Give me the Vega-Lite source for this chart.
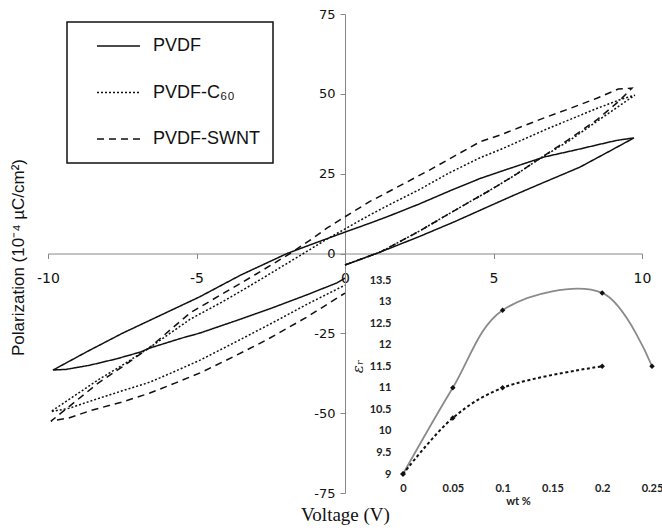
{
  "$schema": "https://vega.github.io/schema/vega-lite/v6.json",
  "width": 594,
  "height": 479,
  "autosize": {"type": "none"},
  "padding": {"left": 48, "top": 14, "right": 20, "bottom": 37},
  "background": "white",
  "config": {
    "view": {"stroke": null},
    "axis": {"grid": false},
    "legend": {"strokeWidth": 1.5},
    "locale": {"number": {"decimal": ".", "thousands": ",", "grouping": [3], "currency": ["$", ""], "minus": "-"}}
  },
  "datasets": {
    "loops": [
      {"s": "PVDF", "i": 1, "v": 0, "p": -3.6},
      {"s": "PVDF", "i": 2, "v": 1.2, "p": 0.5},
      {"s": "PVDF", "i": 3, "v": 2.5, "p": 5.3},
      {"s": "PVDF", "i": 4, "v": 3.7, "p": 10},
      {"s": "PVDF", "i": 5, "v": 4.9, "p": 15},
      {"s": "PVDF", "i": 6, "v": 5.7, "p": 18.3},
      {"s": "PVDF", "i": 7, "v": 6.5, "p": 21.5},
      {"s": "PVDF", "i": 8, "v": 7.9, "p": 27},
      {"s": "PVDF", "i": 9, "v": 8.9, "p": 32},
      {"s": "PVDF", "i": 10, "v": 9.73, "p": 36.2},
      {"s": "PVDF", "i": 11, "v": 9.2, "p": 35.5},
      {"s": "PVDF", "i": 12, "v": 8.9, "p": 34.9},
      {"s": "PVDF", "i": 13, "v": 7.8, "p": 32.5},
      {"s": "PVDF", "i": 14, "v": 6.7, "p": 30.2},
      {"s": "PVDF", "i": 15, "v": 5.5, "p": 26.5},
      {"s": "PVDF", "i": 16, "v": 4.55, "p": 23.5},
      {"s": "PVDF", "i": 17, "v": 3.5, "p": 19.5},
      {"s": "PVDF", "i": 18, "v": 2.5, "p": 15.5},
      {"s": "PVDF", "i": 19, "v": 1.5, "p": 11.8},
      {"s": "PVDF", "i": 20, "v": 0.84, "p": 9.5},
      {"s": "PVDF", "i": 21, "v": 0, "p": 6.7},
      {"s": "PVDF", "i": 22, "v": -1, "p": 3.3},
      {"s": "PVDF", "i": 23, "v": -1.95, "p": 0},
      {"s": "PVDF", "i": 24, "v": -3.5, "p": -6.7},
      {"s": "PVDF", "i": 25, "v": -4.9, "p": -13.6},
      {"s": "PVDF", "i": 26, "v": -6.2, "p": -19.3},
      {"s": "PVDF", "i": 27, "v": -7.5, "p": -25},
      {"s": "PVDF", "i": 28, "v": -8.7, "p": -30.8},
      {"s": "PVDF", "i": 29, "v": -9.83, "p": -36.5},
      {"s": "PVDF", "i": 30, "v": -9.4, "p": -36.3},
      {"s": "PVDF", "i": 31, "v": -8.6, "p": -35},
      {"s": "PVDF", "i": 32, "v": -7.7, "p": -33},
      {"s": "PVDF", "i": 33, "v": -6.9, "p": -30.9},
      {"s": "PVDF", "i": 34, "v": -6.57, "p": -29.6},
      {"s": "PVDF", "i": 35, "v": -5.5, "p": -26.5},
      {"s": "PVDF", "i": 36, "v": -4.88, "p": -24.9},
      {"s": "PVDF", "i": 37, "v": -3.5, "p": -20.5},
      {"s": "PVDF", "i": 38, "v": -2.5, "p": -17.2},
      {"s": "PVDF", "i": 39, "v": -1.3, "p": -13},
      {"s": "PVDF", "i": 40, "v": -0.27, "p": -9.2},
      {"s": "PVDF", "i": 41, "v": 0, "p": -7.7},

      {"s": "PVDF-C₆₀", "i": 1, "v": 0, "p": -3.6},
      {"s": "PVDF-C₆₀", "i": 2, "v": 1.2, "p": 0.5},
      {"s": "PVDF-C₆₀", "i": 3, "v": 2.5, "p": 7},
      {"s": "PVDF-C₆₀", "i": 4, "v": 3.7, "p": 13.5},
      {"s": "PVDF-C₆₀", "i": 5, "v": 4.9, "p": 19.9},
      {"s": "PVDF-C₆₀", "i": 6, "v": 5.8, "p": 25},
      {"s": "PVDF-C₆₀", "i": 7, "v": 6.6, "p": 30},
      {"s": "PVDF-C₆₀", "i": 8, "v": 7.5, "p": 35},
      {"s": "PVDF-C₆₀", "i": 9, "v": 8.5, "p": 41.5},
      {"s": "PVDF-C₆₀", "i": 10, "v": 9.2, "p": 46},
      {"s": "PVDF-C₆₀", "i": 11, "v": 9.76, "p": 49.6},
      {"s": "PVDF-C₆₀", "i": 12, "v": 9.3, "p": 48.3},
      {"s": "PVDF-C₆₀", "i": 13, "v": 8.5, "p": 45.5},
      {"s": "PVDF-C₆₀", "i": 14, "v": 6.8, "p": 39},
      {"s": "PVDF-C₆₀", "i": 15, "v": 5.22, "p": 32.5},
      {"s": "PVDF-C₆₀", "i": 16, "v": 4.55, "p": 30},
      {"s": "PVDF-C₆₀", "i": 17, "v": 3.5, "p": 25.2},
      {"s": "PVDF-C₆₀", "i": 18, "v": 2.5, "p": 20},
      {"s": "PVDF-C₆₀", "i": 19, "v": 1.5, "p": 15.3},
      {"s": "PVDF-C₆₀", "i": 20, "v": 0.84, "p": 12.1},
      {"s": "PVDF-C₆₀", "i": 21, "v": 0, "p": 7.7},
      {"s": "PVDF-C₆₀", "i": 22, "v": -0.7, "p": 4},
      {"s": "PVDF-C₆₀", "i": 23, "v": -1.4, "p": 0},
      {"s": "PVDF-C₆₀", "i": 24, "v": -2.2, "p": -4.5},
      {"s": "PVDF-C₆₀", "i": 25, "v": -3, "p": -9},
      {"s": "PVDF-C₆₀", "i": 26, "v": -4.1, "p": -15},
      {"s": "PVDF-C₆₀", "i": 27, "v": -5.2, "p": -20.5},
      {"s": "PVDF-C₆₀", "i": 28, "v": -6.6, "p": -29.6},
      {"s": "PVDF-C₆₀", "i": 29, "v": -7.5, "p": -35},
      {"s": "PVDF-C₆₀", "i": 30, "v": -8.3, "p": -39.5},
      {"s": "PVDF-C₆₀", "i": 31, "v": -9.1, "p": -44.5},
      {"s": "PVDF-C₆₀", "i": 32, "v": -9.9, "p": -49.5},
      {"s": "PVDF-C₆₀", "i": 33, "v": -9.3, "p": -48.5},
      {"s": "PVDF-C₆₀", "i": 34, "v": -8.5, "p": -46},
      {"s": "PVDF-C₆₀", "i": 35, "v": -7.5, "p": -43},
      {"s": "PVDF-C₆₀", "i": 36, "v": -6.57, "p": -40.3},
      {"s": "PVDF-C₆₀", "i": 37, "v": -5.7, "p": -36.8},
      {"s": "PVDF-C₆₀", "i": 38, "v": -4.88, "p": -33.4},
      {"s": "PVDF-C₆₀", "i": 39, "v": -3.64, "p": -27.5},
      {"s": "PVDF-C₆₀", "i": 40, "v": -2.5, "p": -22},
      {"s": "PVDF-C₆₀", "i": 41, "v": -1.3, "p": -16},
      {"s": "PVDF-C₆₀", "i": 42, "v": 0, "p": -9.9},

      {"s": "PVDF-SWNT", "i": 1, "v": 0, "p": -3.6},
      {"s": "PVDF-SWNT", "i": 2, "v": 1.2, "p": 0.5},
      {"s": "PVDF-SWNT", "i": 3, "v": 2.5, "p": 7},
      {"s": "PVDF-SWNT", "i": 4, "v": 3.7, "p": 13.5},
      {"s": "PVDF-SWNT", "i": 5, "v": 4.9, "p": 19.9},
      {"s": "PVDF-SWNT", "i": 6, "v": 5.8, "p": 25},
      {"s": "PVDF-SWNT", "i": 7, "v": 6.6, "p": 30},
      {"s": "PVDF-SWNT", "i": 8, "v": 7.5, "p": 35.5},
      {"s": "PVDF-SWNT", "i": 9, "v": 8.5, "p": 42},
      {"s": "PVDF-SWNT", "i": 10, "v": 9.2, "p": 47.5},
      {"s": "PVDF-SWNT", "i": 11, "v": 9.66, "p": 51.8},
      {"s": "PVDF-SWNT", "i": 12, "v": 9.2, "p": 51.5},
      {"s": "PVDF-SWNT", "i": 13, "v": 8.5, "p": 48.7},
      {"s": "PVDF-SWNT", "i": 14, "v": 7.6, "p": 45.5},
      {"s": "PVDF-SWNT", "i": 15, "v": 6.8, "p": 42.8},
      {"s": "PVDF-SWNT", "i": 16, "v": 5.22, "p": 37.1},
      {"s": "PVDF-SWNT", "i": 17, "v": 4.55, "p": 35},
      {"s": "PVDF-SWNT", "i": 18, "v": 2.86, "p": 26.2},
      {"s": "PVDF-SWNT", "i": 19, "v": 1.7, "p": 20.5},
      {"s": "PVDF-SWNT", "i": 20, "v": 0.84, "p": 16.3},
      {"s": "PVDF-SWNT", "i": 21, "v": 0, "p": 11.5},
      {"s": "PVDF-SWNT", "i": 22, "v": -0.6, "p": 8},
      {"s": "PVDF-SWNT", "i": 23, "v": -1.2, "p": 4},
      {"s": "PVDF-SWNT", "i": 24, "v": -1.85, "p": 0},
      {"s": "PVDF-SWNT", "i": 25, "v": -3, "p": -6.5},
      {"s": "PVDF-SWNT", "i": 26, "v": -4.1, "p": -12.5},
      {"s": "PVDF-SWNT", "i": 27, "v": -5.2, "p": -18.5},
      {"s": "PVDF-SWNT", "i": 28, "v": -6.6, "p": -29.6},
      {"s": "PVDF-SWNT", "i": 29, "v": -7.5, "p": -35.5},
      {"s": "PVDF-SWNT", "i": 30, "v": -8.3, "p": -40.5},
      {"s": "PVDF-SWNT", "i": 31, "v": -9.1, "p": -46.5},
      {"s": "PVDF-SWNT", "i": 32, "v": -9.9, "p": -52.5},
      {"s": "PVDF-SWNT", "i": 33, "v": -9.3, "p": -51.5},
      {"s": "PVDF-SWNT", "i": 34, "v": -8.5, "p": -49},
      {"s": "PVDF-SWNT", "i": 35, "v": -7.5, "p": -46.5},
      {"s": "PVDF-SWNT", "i": 36, "v": -6.57, "p": -43.7},
      {"s": "PVDF-SWNT", "i": 37, "v": -5.7, "p": -40.5},
      {"s": "PVDF-SWNT", "i": 38, "v": -4.88, "p": -37.4},
      {"s": "PVDF-SWNT", "i": 39, "v": -3.77, "p": -32.4},
      {"s": "PVDF-SWNT", "i": 40, "v": -2.63, "p": -27},
      {"s": "PVDF-SWNT", "i": 41, "v": -1.3, "p": -20},
      {"s": "PVDF-SWNT", "i": 42, "v": 0, "p": -12.4}
    ],
    "inset": [
      {"s": "SWNT", "wt": 0, "er": 9},
      {"s": "SWNT", "wt": 0.05, "er": 11},
      {"s": "SWNT", "wt": 0.1, "er": 12.8},
      {"s": "SWNT", "wt": 0.2, "er": 13.2},
      {"s": "SWNT", "wt": 0.25, "er": 11.5},
      {"s": "C60", "wt": 0, "er": 9},
      {"s": "C60", "wt": 0.05, "er": 10.3},
      {"s": "C60", "wt": 0.1, "er": 11},
      {"s": "C60", "wt": 0.2, "er": 11.5}
    ]
  },
  "layer": [
    {
      "data": {"name": "loops"},
      "mark": {"type": "line", "color": "#111", "strokeWidth": 1.5},
      "encoding": {
        "x": {
          "field": "v", "type": "quantitative",
          "scale": {"domain": [-10, 10], "nice": false, "zero": false},
          "axis": {
            "orient": "bottom", "offset": -239.5,
            "values": [-10, -5, 0, 5, 10],
            "domainColor": "#888", "tickColor": "#888", "tickSize": 5,
            "labelFont": "DejaVu Sans", "labelFontSize": 14, "labelColor": "#111",
            "labelPadding": 13, "labelFlush": false, "labelOverlap": false,
            "title": "Voltage (V)", "titleFont": "Liberation Serif", "titleFontSize": 19,
            "titleFontWeight": "normal", "titleColor": "#111",
            "titleX": 297, "titleY": 261, "titleBaseline": "middle", "titleAlign": "center"
          }
        },
        "y": {
          "field": "p", "type": "quantitative",
          "scale": {"domain": [-75, 75], "nice": false, "zero": false},
          "axis": {
            "orient": "left", "offset": -297,
            "values": [-75, -50, -25, 0, 25, 50, 75],
            "domainColor": "#888", "tickColor": "#888", "tickSize": 5,
            "labelFont": "DejaVu Sans", "labelFontSize": 13, "labelColor": "#111",
            "labelPadding": 5, "labelOverlap": false,
            "title": "Polarization (10⁻⁴ µC/cm²)", "titleFont": "Liberation Sans", "titleFontSize": 17,
            "titleFontWeight": "normal", "titleColor": "#111", "titleAngle": -90,
            "titleX": -327, "titleY": 243, "titleBaseline": "middle", "titleAlign": "center"
          }
        },
        "order": {"field": "i", "type": "quantitative"},
        "strokeDash": {
          "field": "s", "type": "nominal",
          "scale": {"domain": ["PVDF", "PVDF-C₆₀", "PVDF-SWNT"], "range": [[1, 0], [2, 2], [7, 5]]},
          "legend": {
            "title": null, "orient": "none", "legendX": 19, "legendY": 8,
            "strokeColor": "#111", "fillColor": "white",
            "padding": 13, "symbolOffset": 16, "symbolType": "stroke", "symbolSize": 1849,
            "symbolStrokeWidth": 1.5, "symbolStrokeColor": "#111", "clipHeight": 22, "rowPadding": 24.5,
            "labelFont": "Liberation Sans", "labelFontSize": 18, "labelColor": "#111", "labelOffset": 12
          }
        }
      }
    },
    {
      "data": {"name": "inset"},
      "encoding": {
        "x": {
          "field": "wt", "type": "quantitative",
          "scale": {"domain": [0, 0.25], "range": [355, 604], "nice": false, "zero": false},
          "axis": {
            "orient": "bottom", "offset": -19,
            "values": [0, 0.05, 0.1, 0.15, 0.2, 0.25], "format": "~g",
            "domain": false, "ticks": false,
            "labelFont": "Lato", "labelFontWeight": "bold", "labelFontSize": 11, "labelColor": "#222",
            "labelPadding": 8, "labelFlush": false, "labelOverlap": false,
            "title": "wt %", "titleFont": "Lato", "titleFontWeight": "bold", "titleFontSize": 11, "titleColor": "#222",
            "titleX": 470, "titleY": 27, "titleBaseline": "middle", "titleAlign": "center"
          }
        },
        "y": {
          "field": "er", "type": "quantitative",
          "scale": {"domain": [9, 13.5], "range": [460, 266], "nice": false, "zero": false},
          "axis": {
            "orient": "left", "offset": -355,
            "values": [9, 9.5, 10, 10.5, 11, 11.5, 12, 12.5, 13, 13.5], "format": "~g",
            "domain": false, "ticks": false,
            "labelFont": "Lato", "labelFontWeight": "bold", "labelFontSize": 11, "labelColor": "#222",
            "labelPadding": 12, "labelOverlap": false,
            "title": "εᵣ", "titleFont": "DejaVu Serif", "titleFontStyle": "italic", "titleFontWeight": "normal",
            "titleFontSize": 15, "titleColor": "#222", "titleAngle": -90,
            "titleX": -46, "titleY": 352, "titleBaseline": "middle", "titleAlign": "center"
          }
        }
      },
      "layer": [
        {
          "transform": [{"filter": "datum.s == 'SWNT'"}],
          "mark": {"type": "line", "interpolate": "catmull-rom", "color": "#8a8a8a", "strokeWidth": 1.8}
        },
        {
          "transform": [{"filter": "datum.s == 'C60'"}],
          "mark": {"type": "line", "interpolate": "catmull-rom", "color": "#111", "strokeWidth": 2, "strokeDash": [3, 2.5]}
        },
        {
          "mark": {"type": "point", "shape": "diamond", "filled": true, "color": "#111", "size": 30, "opacity": 1}
        }
      ]
    }
  ],
  "resolve": {"scale": {"x": "independent", "y": "independent"}}
}
